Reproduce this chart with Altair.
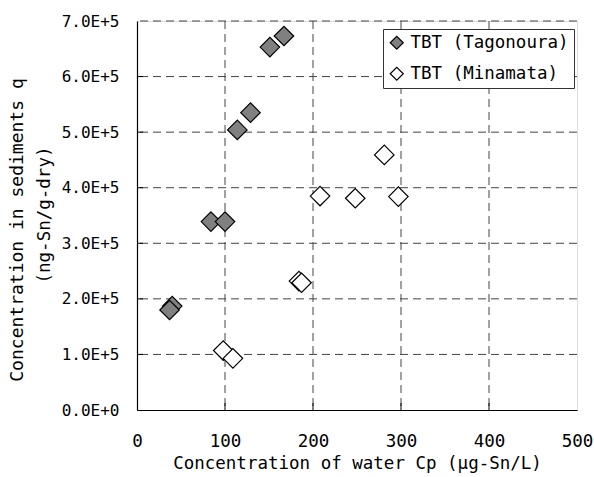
import altair as alt
import pandas as pd

# Series labels
series_names = ["TBT (Tagonoura)", "TBT (Minamata)"]

# TBT, Tagonoura: water concentration Cp (ug-Sn/L) vs sediment concentration q (ng-Sn/g-dry)
tag_cp = [40, 37, 84, 100, 129, 114, 167, 151]
tag_q = [187000, 180000, 339000, 339000, 535000, 504000, 673000, 653000]

# TBT, Minamata
min_cp = [98, 109, 184, 187, 208, 248, 281, 297]
min_q = [107000, 93000, 232000, 229000, 385000, 381000, 459000, 384000]

# Axis ticks and gridlines
x_ticks = [0, 100, 200, 300, 400, 500]
y_ticks = [0, 100000, 200000, 300000, 400000, 500000, 600000, 700000]
x_grid = [100, 200, 300, 400]
y_grid = [100000, 200000, 300000, 400000, 500000, 600000, 700000]
x_inner_ticks = [100, 200, 300, 400]
y_inner_ticks = [100000, 200000, 300000, 400000, 500000, 600000]

# Axis titles
x_title = "Concentration of water Cp (μg-Sn/L)"
y_title_lines = ["Concentration in sediments q", "(ng-Sn/g-dry)"]

FONT = "DejaVu Sans Mono"
W, H = 440, 389

points = pd.DataFrame({
    "cp": tag_cp + min_cp,
    "q": tag_q + min_q,
    "site": [series_names[0]] * len(tag_cp) + [series_names[1]] * len(min_cp),
})

x_scale = alt.Scale(domain=[0, 500], nice=False, zero=False)
y_scale = alt.Scale(domain=[0, 700000], nice=False, zero=False)

x_axis = alt.Axis(
    values=x_ticks,
    title=x_title,
    grid=False,
    ticks=False,
    domainColor="black",
    domainWidth=1.2,
    labelFont=FONT,
    labelFontSize=17.5,
    labelColor="black",
    labelPadding=22,
    labelFlush=False,
    titleFont=FONT,
    titleFontSize=17.5,
    titleFontWeight="normal",
    titleColor="black",
    titleBaseline="alphabetic",
    titleY=58,
)

y_axis = alt.Axis(
    values=y_ticks,
    title=None,
    grid=False,
    ticks=False,
    domainColor="black",
    domainWidth=1.2,
    labelFont=FONT,
    labelFontSize=16,
    labelColor="black",
    labelPadding=18,
    labelFlush=False,
    labelExpr="upper(format(datum.value, '.1e'))",
)

# Dashed gridlines
vgrid = alt.Chart(pd.DataFrame({"cp": x_grid})).mark_rule(
    color="#444444", strokeWidth=1, strokeDash=[8, 5]
).encode(x=alt.X("cp:Q", scale=x_scale, axis=x_axis))

hgrid = alt.Chart(pd.DataFrame({"q": y_grid})).mark_rule(
    color="#444444", strokeWidth=1, strokeDash=[8, 5]
).encode(y=alt.Y("q:Q", scale=y_scale, axis=y_axis))

# Inward tick marks
xticks = alt.Chart(pd.DataFrame({"cp": x_inner_ticks})).mark_rule(
    color="black", strokeWidth=1
).encode(
    x=alt.X("cp:Q", scale=x_scale, axis=x_axis),
    y=alt.value(H),
    y2=alt.value(H - 7),
)

yticks = alt.Chart(pd.DataFrame({"q": y_inner_ticks})).mark_rule(
    color="black", strokeWidth=1
).encode(
    y=alt.Y("q:Q", scale=y_scale, axis=y_axis),
    x=alt.value(0),
    x2=alt.value(6),
)

# Scatter of both series with legend
scatter = alt.Chart(points).mark_point(
    shape="diamond", filled=True, size=380, stroke="black", strokeWidth=1.2, opacity=1
).encode(
    x=alt.X("cp:Q", scale=x_scale, axis=x_axis),
    y=alt.Y("q:Q", scale=y_scale, axis=y_axis),
    fill=alt.Fill(
        "site:N",
        scale=alt.Scale(domain=series_names, range=["#808080", "#ffffff"]),
        legend=alt.Legend(
            title=None,
            orient="none",
            legendX=246,
            legendY=8,
            direction="vertical",
            fillColor="white",
            strokeColor="#333333",
            padding=5,
            symbolType="diamond",
            symbolSize=170,
            symbolStrokeColor="black",
            symbolStrokeWidth=1.2,
            labelFont=FONT,
            labelFontSize=17.5,
            labelColor="black",
            labelLimit=300,
            labelOffset=5,
            rowPadding=12,
        ),
    ),
)

# Two-line vertical title for the y axis
ytitle = alt.Chart(pd.DataFrame({
    "t": y_title_lines,
    "px": [-119, -92],
    "py": [209, 194],
    "fs": [18, 17.5],
})).mark_text(angle=270, align="center", baseline="middle", font=FONT, color="black").encode(
    text="t:N",
    x=alt.X("px:Q", scale=None),
    y=alt.Y("py:Q", scale=None),
    size=alt.Size("fs:Q", scale=None, legend=None),
)

chart = alt.layer(vgrid, hgrid, scatter, xticks, yticks, ytitle).properties(
    width=W,
    height=H,
    autosize=alt.AutoSizeParams(type="none"),
    padding={"left": 137, "top": 21, "right": 17, "bottom": 67},
).configure_view(
    stroke="#888888", strokeWidth=1
).configure(background="white")

chart.save("out.html", embed_options={"renderer": "svg", "actions": False})
